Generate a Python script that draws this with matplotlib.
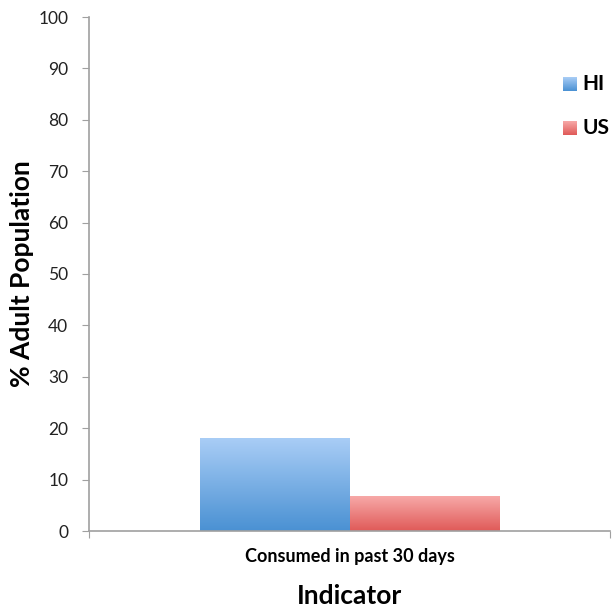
import matplotlib.pyplot as plt
import numpy as np
from matplotlib.colors import LinearSegmentedColormap

categories = ["Consumed in past 30 days"]
series_names = ["HI", "US"]
hi_values = [18.0]
us_values = [6.8]

plt.rcParams["font.family"] = ["Lato", "DejaVu Sans"]

fig = plt.figure(figsize=(6.13, 6.08), dpi=100)
ax = fig.add_axes([89 / 613, 77 / 608, 521 / 613, 514 / 608])

x = np.arange(len(categories))
width = 0.286
grads = {
    "HI": ("#a9cdf6", "#4a91d3"),
    "US": ("#f7a9a8", "#e05a58"),
}

bars_hi = ax.bar(x - width / 2, hi_values, width, color="none", label="HI")
bars_us = ax.bar(x + width / 2, us_values, width, color="none", label="US")

# gradient fill clipped to each bar's rectangle
for bars, name in [(bars_hi, "HI"), (bars_us, "US")]:
    top, bottom = grads[name]
    cmap = LinearSegmentedColormap.from_list(name, [bottom, top])
    for b in bars:
        x0, y0 = b.get_x(), b.get_y()
        w, h = b.get_width(), b.get_height()
        grad = np.linspace(0, 1, 256).reshape(-1, 1)
        ax.imshow(grad, cmap=cmap, origin="lower", aspect="auto",
                  extent=(x0, x0 + w, y0, y0 + h), zorder=2)

ax.set_xlim(-0.5, len(categories) - 0.5)
ax.set_ylim(0, 100)
ax.set_yticks(range(0, 101, 10))
ax.set_xticks([-0.5, 0.5], minor=False)
ax.set_xticklabels(["", ""])
ax.set_xticks(x, minor=True)
ax.set_xticklabels(categories, minor=True, fontsize=13, fontweight="bold")
ax.tick_params(axis="x", which="minor", length=0, pad=12)
ax.tick_params(axis="x", which="major", length=5, color="#a0a0a0")
ax.tick_params(axis="y", length=5, color="#a0a0a0", labelsize=12.5, pad=10,
               labelcolor="#222222")

for side in ["top", "right"]:
    ax.spines[side].set_visible(False)
for side in ["left", "bottom"]:
    ax.spines[side].set_color("#a0a0a0")
    ax.spines[side].set_linewidth(1.2)

ax.set_ylabel("% Adult Population", fontsize=19, fontweight="bold", labelpad=3)
ax.set_xlabel("Indicator", fontsize=19, fontweight="bold", labelpad=14)

for i, name in enumerate(series_names):
    top, bottom = grads[name]
    cmap = LinearSegmentedColormap.from_list(name, [bottom, top])
    yc = 524 - 44 * i
    lax = fig.add_axes([563 / 613, (yc - 7) / 608, 14 / 613, 14 / 608])
    lax.imshow(np.linspace(0, 1, 64).reshape(-1, 1), cmap=cmap,
               origin="lower", aspect="auto")
    lax.axis("off")
    fig.text(582 / 613, yc / 608, name, fontsize=15, fontweight="bold",
             va="center", ha="left")

fig.savefig("out.png", dpi=100)
